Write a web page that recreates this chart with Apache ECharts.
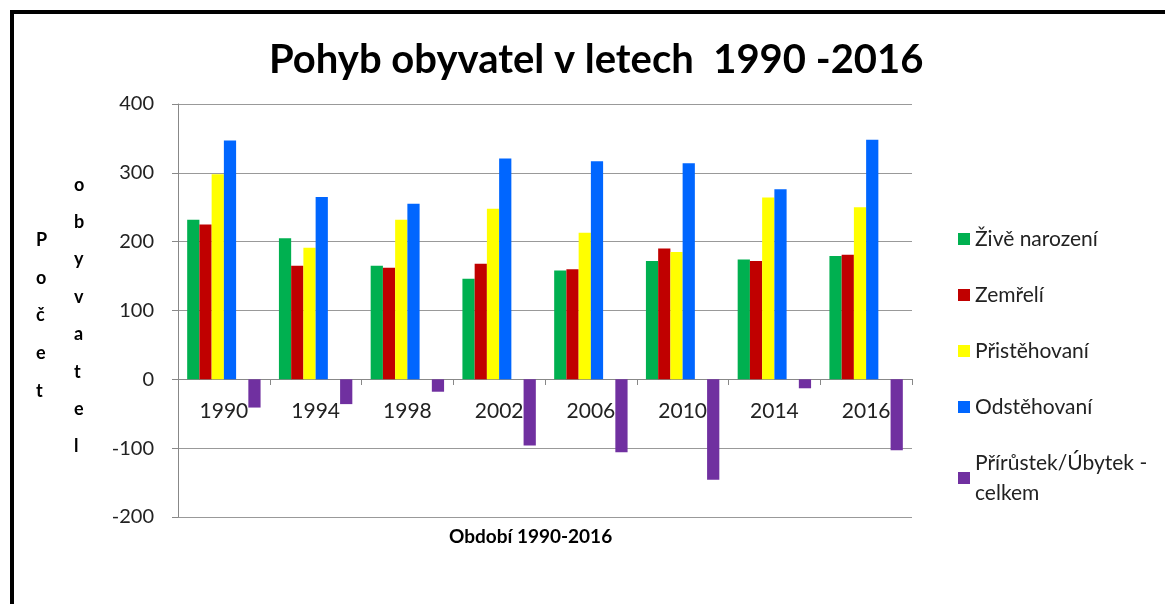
<!DOCTYPE html>
<html>
<head>
<meta charset="utf-8">
<script src="https://cdn.jsdelivr.net/npm/echarts@6/dist/echarts.min.js"></script>
<style>
html, body { margin: 0; padding: 0; background: #fff; }
#chart { width: 1165px; height: 604px; }
</style>
</head>
<body>
<div id="chart"></div>
<script>
var years = ['1990', '1994', '1998', '2002', '2006', '2010', '2014', '2016'];
var narozeni = [232, 205, 165, 146, 158, 172, 174, 179];
var zemreli = [225, 165, 162, 168, 160, 190, 172, 181];
var pristehovani = [298, 191, 232, 248, 213, 185, 264, 250];
var odstehovani = [347, 265, 255, 321, 317, 314, 276, 348];
var prirustek = [-41, -36, -18, -96, -106, -146, -13, -103];
var prazdna = [null, null, null, null, null, null, null, null]; // prazdna rada jako v Excelu

var font = 'Lato';

echarts.init(document.getElementById('chart')).setOption({
	animation: false,
	color: ['#00b050', '#c00000', '#ffff00', '#0066ff', '#7030a0'],
	title: {
		text: 'Pohyb obyvatel v letech  1990 -2016',
		left: 264,
		top: 35,
		textStyle: { fontFamily: font, fontSize: 40, fontWeight: 'bold', color: '#000' }
	},
	legend: {
		orient: 'vertical',
		left: 953,
		top: 219,
		itemWidth: 12,
		itemHeight: 12,
		itemGap: 26,
		icon: 'rect',
		data: ['Živě narození', 'Zemřelí', 'Přistěhovaní', 'Odstěhovaní', 'Přírůstek/Úbytek - celkem'],
		formatter: function(name) {
			return name.replace('Úbytek - ', 'Úbytek -\n');
		},
		textStyle: { fontFamily: font, fontSize: 21, lineHeight: 30, color: '#222' }
	},
	grid: { left: 178, right: 253, top: 104, bottom: 87 },
	xAxis: {
		type: 'category',
		data: years,
		offset: -138, // osa na nule
		axisLine: { onZero: false, lineStyle: { color: '#888', width: 1 } },
		axisTick: { show: true, length: 6, lineStyle: { color: '#888' } },
		axisLabel: { fontFamily: font, fontSize: 21, color: '#222', margin: 22 }
	},
	yAxis: {
		type: 'value',
		min: -200,
		max: 400,
		interval: 100,
		axisLine: { show: true, lineStyle: { color: '#888' } },
		axisTick: { show: true, length: 6, lineStyle: { color: '#888' } },
		axisLabel: { fontFamily: font, fontSize: 20, color: '#222', margin: 24 },
		splitLine: { lineStyle: { color: '#999', width: 1 } }
	},
	graphic: [{
		type: 'polyline',
		shape: { points: [[12, 604], [12, 12], [1165, 12]] },
		style: { stroke: '#000', lineWidth: 4, fill: null }
	}, {
		type: 'text', left: 36, top: 221,
		style: { text: 'P\no\nč\ne\nt', font: 'bold 18px ' + font, lineHeight: 37.8, fill: '#000', align: 'center' }
	}, {
		type: 'text', left: 74, top: 166,
		style: { text: 'o\nb\ny\nv\na\nt\ne\nl', font: 'bold 18px ' + font, lineHeight: 37.4, fill: '#000', align: 'center' }
	}, {
		type: 'text', left: 449, top: 527,
		style: { text: 'Období 1990-2016', font: 'bold 19px ' + font, fill: '#000' }
	}],
	series: [
		{ name: 'Živě narození', type: 'bar', data: narozeni, barGap: 0, barCategoryGap: '20%' },
		{ name: 'Zemřelí', type: 'bar', data: zemreli },
		{ name: 'Přistěhovaní', type: 'bar', data: pristehovani },
		{ name: 'Odstěhovaní', type: 'bar', data: odstehovani },
		{ name: 'prazdna', type: 'bar', data: prazdna },
		{ name: 'Přírůstek/Úbytek - celkem', type: 'bar', data: prirustek, itemStyle: { color: '#7030a0' } }
	]
});
</script>
</body>
</html>
